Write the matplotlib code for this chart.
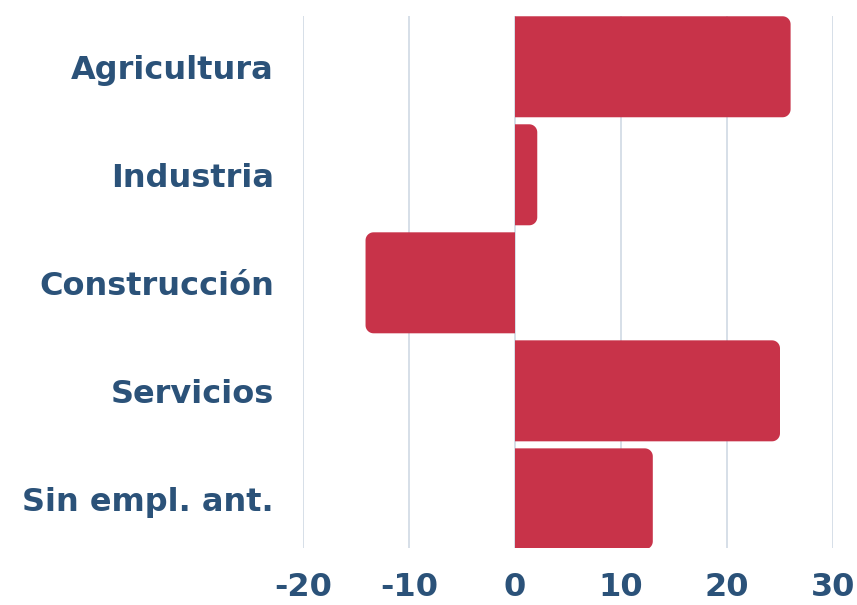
import matplotlib
matplotlib.use('Agg')
import matplotlib.pyplot as plt
import numpy as np
from matplotlib.patches import Polygon

categories = ['Agricultura', 'Industria', 'Construcción', 'Servicios', 'Sin empl. ant.']
values = [26.0, 2.1, -14.1, 25.0, 13.0]
xticks = [-20, -10, 0, 10, 20, 30]

BAR_COLOR = '#c83349'
TEXT_COLOR = '#2b5279'
GRID_COLOR = '#cbd6e2'

fig = plt.figure(figsize=(8.57, 6.05), dpi=100)
ax = fig.add_axes([303 / 857, 1 - 548 / 605, 530 / 857, 532 / 605])

ax.set_xlim(-20, 30)
ax.set_ylim(4.455, -0.47)

bars = ax.barh(categories, values, height=0.935, color=BAR_COLOR, zorder=2)

# replace the plain bars with ones rounded only at the outer end
px_x = (ax.get_xlim()[1] - ax.get_xlim()[0]) / 530
px_y = (ax.get_ylim()[0] - ax.get_ylim()[1]) / 532
rx, ry = 8 * px_x, 8 * px_y
t = np.linspace(0, np.pi / 2, 12)
for bar, v in zip(bars, values):
    y0 = bar.get_y()
    y1 = y0 + bar.get_height()
    sign = 1 if v >= 0 else -1
    r = min(rx, abs(v) / 2)
    cx = v - sign * r
    c0 = np.column_stack([cx + sign * r * np.sin(t), y0 + ry - ry * np.cos(t)])
    c1 = np.column_stack([cx + sign * r * np.cos(t), y1 - ry + ry * np.sin(t)])
    pts = np.vstack([[[0, y0]], c0, c1, [[0, y1]]])
    bar.set_visible(False)
    ax.add_patch(Polygon(pts, closed=True, fc=BAR_COLOR, ec='none', zorder=2))

ax.set_xticks(xticks)
ax.set_xticklabels([str(x) for x in xticks])
ax.grid(axis='x', color=GRID_COLOR, linewidth=1.1, zorder=0)
ax.set_axisbelow(True)
for s in ax.spines.values():
    s.set_visible(False)

ax.tick_params(axis='both', length=0, colors=TEXT_COLOR)
ax.tick_params(axis='y', pad=21)
ax.tick_params(axis='x', pad=17)
for lab in ax.get_yticklabels() + ax.get_xticklabels():
    lab.set_fontweight('bold')
    lab.set_fontsize(23)
    lab.set_color(TEXT_COLOR)

fig.savefig('out.png', dpi=100)
